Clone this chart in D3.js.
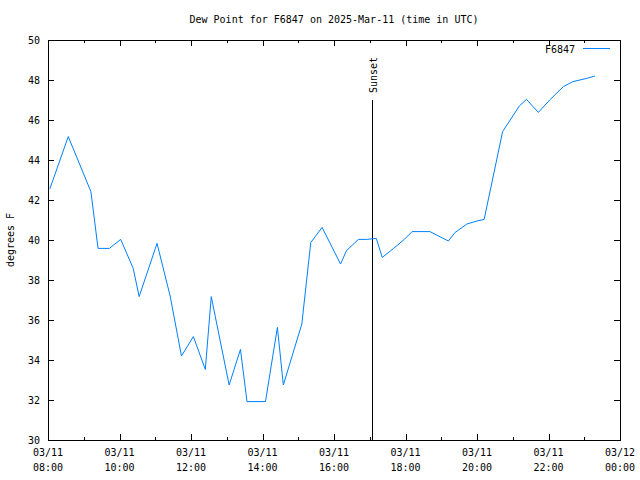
<!DOCTYPE html>
<html><head><meta charset="utf-8">
<script src="https://cdn.jsdelivr.net/npm/d3@7"></script>
<style>
body{margin:0;background:#fff;}
svg text{font-family:"DejaVu Sans Mono",monospace;font-size:10px;fill:#000;}
</style></head>
<body><svg id="c" width="640" height="480"></svg>
<script>
const day = "2025-03-11";
const times = ["08:03","08:34","09:12","09:24","09:43","10:02","10:23","10:33","11:03","11:25","11:44","12:04","12:24","12:34","13:04","13:23","13:34","14:05","14:25","14:35","15:06","15:21","15:40","16:11","16:21","16:41","16:55","17:11","17:21","17:40","17:58","18:11","18:41","19:12","19:23","19:43","20:00","20:12","20:43","21:11","21:23","21:43","22:02","22:25","22:41","23:04","23:18"];
const dewpoints = [42.55,45.17,42.42,39.58,39.58,40.03,38.58,37.17,39.83,37.2,34.2,35.17,33.53,37.17,32.75,34.53,31.92,31.92,35.63,32.75,35.8,39.87,40.63,38.8,39.47,40.03,40.03,40.08,39.13,39.58,40.03,40.42,40.42,39.95,40.37,40.8,40.95,41.03,45.42,46.7,47.03,46.38,47.0,47.67,47.92,48.08,48.2];
const yTicks = [30,32,34,36,38,40,42,44,46,48,50];
const xTickTimes = ["2025-03-11 08:00","2025-03-11 10:00","2025-03-11 12:00","2025-03-11 14:00","2025-03-11 16:00","2025-03-11 18:00","2025-03-11 20:00","2025-03-11 22:00","2025-03-12 00:00"];
const xTickDates = ["03/11","03/11","03/11","03/11","03/11","03/11","03/11","03/11","03/12"];
const xTickHours = ["08:00","10:00","12:00","14:00","16:00","18:00","20:00","22:00","00:00"];
const sunsetTime = "2025-03-11 17:04";
const title = "Dew Point for F6847 on 2025-Mar-11 (time in UTC)";
const yLabel = "degrees F";
const seriesName = "F6847";
const color = "#0080ff";

const parse = d3.utcParse("%Y-%m-%d %H:%M");
const L=48,R=620,T=40,B=440;
const x = d3.scaleUtc().domain([parse("2025-03-11 08:00"), parse("2025-03-12 00:00")]).range([L,R]);
const y = d3.scaleLinear().domain([30,50]).range([B,T]);
const svg = d3.select("#c");
const data = times.map((t,i)=>({t:parse(day+" "+t), v:dewpoints[i]}));
const majors = xTickTimes.map(parse);
const minors = d3.utcHour.range(parse("2025-03-11 08:00"), parse("2025-03-12 00:01"), 1).filter(d=>d.getUTCHours()%2===1);

function styleAxis(g){ g.select(".domain").remove(); g.selectAll("line").attr("stroke","#000").attr("shape-rendering","crispEdges"); }

// bottom
svg.append("g").attr("transform",`translate(0,${B})`).call(d3.axisBottom(x).tickValues(majors).tickSize(-6).tickFormat(""))
  .call(styleAxis);
svg.append("g").attr("transform",`translate(0,${B})`).call(d3.axisBottom(x).tickValues(minors).tickSize(-3).tickFormat(""))
  .call(styleAxis);
// top
svg.append("g").attr("transform",`translate(0,${T})`).call(d3.axisTop(x).tickValues(majors).tickSize(-6).tickFormat(""))
  .call(styleAxis);
svg.append("g").attr("transform",`translate(0,${T})`).call(d3.axisTop(x).tickValues(minors).tickSize(-3).tickFormat(""))
  .call(styleAxis);
// left
svg.append("g").attr("transform",`translate(${L},0)`).call(d3.axisLeft(y).tickValues(yTicks).tickSize(-6).tickFormat(""))
  .call(styleAxis);
// right
svg.append("g").attr("transform",`translate(${R},0)`).call(d3.axisRight(y).tickValues(yTicks).tickSize(-6).tickFormat(""))
  .call(styleAxis);

// y labels
svg.append("g").selectAll("text").data(yTicks).join("text")
  .attr("x",L-8).attr("y",d=>y(d)+4).attr("text-anchor","end").text(d=>d);
// x labels
const xl = svg.append("g").selectAll("g").data(majors).join("g").attr("transform",d=>`translate(${x(d)},0)`);
xl.append("text").attr("y",456).attr("text-anchor","middle").text((d,i)=>xTickDates[i]);
xl.append("text").attr("y",471).attr("text-anchor","middle").text((d,i)=>xTickHours[i]);

// frame
svg.append("rect").attr("x",L).attr("y",T).attr("width",R-L).attr("height",B-T)
  .attr("fill","none").attr("stroke","#000").attr("shape-rendering","crispEdges");

// sunset
const sx = Math.round(x(parse(sunsetTime)))+0.5;
svg.append("line").attr("x1",sx).attr("x2",sx).attr("y1",100).attr("y2",B).attr("stroke","#000");
svg.append("text").attr("transform",`translate(${sx+4},93) rotate(-90)`).attr("text-anchor","start").text("Sunset");

// series
svg.append("path").datum(data).attr("fill","none").attr("stroke",color).attr("stroke-width",1)
  .attr("d",d3.line().x(d=>x(d.t)).y(d=>y(d.v)));

// legend
svg.append("text").attr("x",575).attr("y",53).attr("text-anchor","end").text(seriesName);
svg.append("line").attr("x1",583).attr("x2",610).attr("y1",48.5).attr("y2",48.5).attr("stroke",color);

// title & y label
svg.append("text").attr("x",334).attr("y",23).attr("text-anchor","middle").text(title);
svg.append("text").attr("transform","translate(14,240) rotate(-90)").attr("text-anchor","middle").text(yLabel);
</script></body></html>
